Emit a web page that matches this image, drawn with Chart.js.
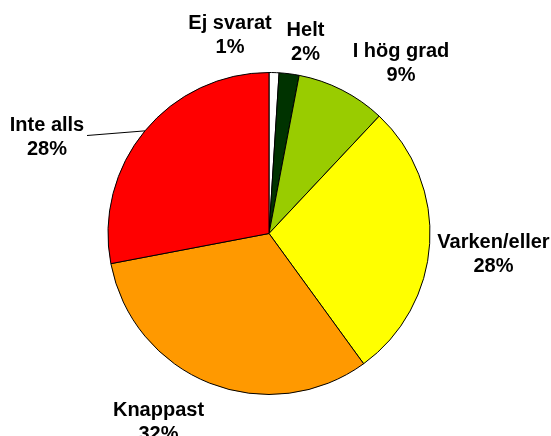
<!DOCTYPE html>
<html>
<head>
<meta charset="utf-8">
<script src="https://cdn.jsdelivr.net/npm/chart.js@4/dist/chart.umd.min.js"></script>
<style>
    html, body { margin: 0; padding: 0; background: #fff; }
    #wrap { width: 551px; height: 436px; }
</style>
</head>
<body>
<div id="wrap"><canvas id="pie_chart"></canvas></div>
<script>
const labels = ['Ej svarat', 'Helt', 'I hög grad', 'Varken/eller', 'Knappast', 'Inte alls'];
const values = [1, 2, 9, 28, 32, 28];
const colors = ['#FFFFFF', '#003300', '#99CC00', '#FFFF00', '#FF9900', '#FF0000'];

// where each label sits, relative to the pie centre (x, first baseline)
const labelOffsets = [[-39, -205], [36.5, -198], [132, -177], [224.5, 14], [-110.5, 182], [-222, -103]];

const outsideLabels = {
    id: 'outsideLabels',
    afterDatasetsDraw(chart) {
        const ctx = chart.ctx;
        const arcs = chart.getDatasetMeta(0).data;
        ctx.save();
        ctx.fillStyle = '#000';
        ctx.font = 'bold 20px "Liberation Sans", Arial, sans-serif';
        ctx.textAlign = 'center';
        ctx.textBaseline = 'alphabetic';
        arcs.forEach((arc, i) => {
            const x = arc.x + labelOffsets[i][0];
            const y = arc.y + labelOffsets[i][1];
            ctx.fillText(labels[i], x, y);
            ctx.fillText(values[i] + '%', x, y + 24);
        });
        // leader line for "Inte alls"
        const last = arcs[arcs.length - 1];
        const mid = (last.startAngle + last.endAngle) / 2;
        ctx.strokeStyle = '#000';
        ctx.lineWidth = 1;
        ctx.beginPath();
        ctx.moveTo(last.x - 182, last.y - 98);
        ctx.lineTo(last.x + Math.cos(mid) * last.outerRadius, last.y + Math.sin(mid) * last.outerRadius);
        ctx.stroke();
        ctx.restore();
    }
};

new Chart(document.getElementById('pie_chart').getContext('2d'), {
    type: 'pie',
    data: {
        labels: labels,
        datasets: [{
            data: values,
            backgroundColor: colors,
            borderColor: '#000',
            borderWidth: 1
        }]
    },
    options: {
        responsive: true,
        maintainAspectRatio: false,
        animation: false,
        layout: {
            padding: {top: 72, bottom: 41, left: 0, right: 13}
        },
        plugins: {
            legend: {display: false},
            tooltip: {enabled: false}
        }
    },
    plugins: [outsideLabels]
});
</script>
</body>
</html>
